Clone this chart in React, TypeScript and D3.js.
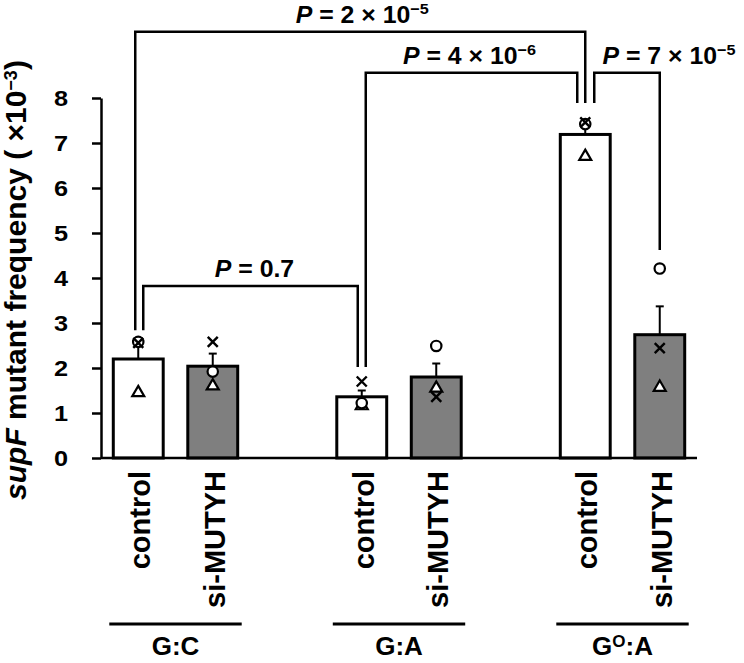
import React, { useEffect, useRef } from 'react';
import * as d3 from 'd3';

const groups = ['G:C', 'G:A', 'GO:A'];
const conditions = ['control', 'si-MUTYH'];

// mean mutant frequency (x10^-3) and SEM
const meanControl = [2.2, 1.36, 7.19];
const meanSi = [2.04, 1.8, 2.74];
const semControl = [0.37, 0.14, 0.25];
const semSi = [0.28, 0.3, 0.63];

// individual experiments
const circleControl = [2.58, 1.22, 7.42];
const circleSi = [1.92, 2.49, 4.21];
const crossControl = [2.56, 1.7, 7.46];
const crossSi = [2.58, 1.36, 2.44];
const triangleControl = [1.45, 1.16, 6.7];
const triangleSi = [1.6, 1.55, 1.57];

const yTicks = [0, 1, 2, 3, 4, 5, 6, 7, 8];

const pMantissa = ['0.7', '2', '4', '7'];
const pExponent = ['', '\u22125', '\u22126', '\u22125'];

const FONT = '"Liberation Sans", Arial, sans-serif';

const App = () => {
  const container = useRef(null);

  const width = 744;
  const height = 663;

  useEffect(() => {
    createChart();
  }, []);

  const createChart = () => {
    const svg = d3
      .select(container.current)
      .selectAll('svg')
      .data([0])
      .join('svg')
      .attr('width', width)
      .attr('height', height)
      .style('display', 'block')
      .style('background', '#fff')
      .style('font-family', FONT)
      .style('font-weight', 'bold');

    svg.selectAll('*').remove();

    const slots = [];
    groups.forEach((g, i) => {
      conditions.forEach(c => slots.push(`${g}|${c}`));
      if (i < groups.length - 1) slots.push(`gap${i}`);
    });

    const rows = groups.flatMap((g, i) =>
      conditions.map((c, j) => ({
        key: `${g}|${c}`,
        group: g,
        cond: c,
        mean: j ? meanSi[i] : meanControl[i],
        sem: j ? semSi[i] : semControl[i],
        circle: j ? circleSi[i] : circleControl[i],
        cross: j ? crossSi[i] : crossControl[i],
        triangle: j ? triangleSi[i] : triangleControl[i]
      }))
    );

    const xScale = d3
      .scaleBand()
      .domain(slots)
      .range([101, 697])
      .paddingInner(0.33)
      .paddingOuter(0.165);

    const yScale = d3.scaleLinear().domain([0, 8]).range([458, 98]);

    const bw = xScale.bandwidth();
    const cx = k => xScale(k) + bw / 2;

    // bars
    svg
      .selectAll('.bar')
      .data(rows)
      .join('rect')
      .attr('class', 'bar')
      .attr('x', d => xScale(d.key))
      .attr('y', d => yScale(d.mean))
      .attr('width', bw)
      .attr('height', d => yScale(0) - yScale(d.mean))
      .attr('fill', d => (d.cond === 'control' ? '#ffffff' : '#7f7f7f'))
      .attr('stroke', '#000')
      .attr('stroke-width', 3);

    // error bars (upper only)
    const err = svg
      .selectAll('.err')
      .data(rows)
      .join('g')
      .attr('class', 'err')
      .attr('stroke', '#000')
      .attr('stroke-width', 2);
    err
      .append('line')
      .attr('x1', d => cx(d.key))
      .attr('x2', d => cx(d.key))
      .attr('y1', d => yScale(d.mean))
      .attr('y2', d => yScale(d.mean + d.sem));
    err
      .append('line')
      .attr('x1', d => cx(d.key) - 4)
      .attr('x2', d => cx(d.key) + 4)
      .attr('y1', d => yScale(d.mean + d.sem))
      .attr('y2', d => yScale(d.mean + d.sem));

    // individual points
    svg
      .selectAll('.pt-tri')
      .data(rows)
      .join('path')
      .attr('class', 'pt-tri')
      .attr('d', d3.symbol(d3.symbolTriangle, 62))
      .attr('transform', d => `translate(${cx(d.key)},${yScale(d.triangle)})`)
      .attr('fill', '#fff')
      .attr('stroke', '#000')
      .attr('stroke-width', 2.2);

    svg
      .selectAll('.pt-circle')
      .data(rows)
      .join('circle')
      .attr('class', 'pt-circle')
      .attr('cx', d => cx(d.key))
      .attr('cy', d => yScale(d.circle))
      .attr('r', 5.2)
      .attr('fill', '#fff')
      .attr('stroke', '#000')
      .attr('stroke-width', 2.2);

    svg
      .selectAll('.pt-cross')
      .data(rows)
      .join('path')
      .attr('class', 'pt-cross')
      .attr('d', 'M-5,-5L5,5M-5,5L5,-5')
      .attr('transform', d => `translate(${cx(d.key)},${yScale(d.cross)})`)
      .attr('fill', 'none')
      .attr('stroke', '#000')
      .attr('stroke-width', 2.4);

    // y axis
    const yAxis = d3
      .axisLeft(yScale)
      .tickValues(yTicks)
      .tickSize(9)
      .tickSizeOuter(0)
      .tickFormat(d3.format('d'));

    const yAxisG = svg
      .append('g')
      .attr('transform', 'translate(101,0)')
      .call(yAxis);
    yAxisG.select('.domain').attr('stroke', '#000').attr('stroke-width', 2.5);
    yAxisG.selectAll('.tick line').attr('stroke', '#000').attr('stroke-width', 2.5);
    yAxisG
      .selectAll('.tick text')
      .attr('x', null)
      .attr('dy', '0.36em')
      .attr('transform', 'translate(-33,0) scale(1.15,1)')
      .attr('fill', '#000')
      .style('font-family', FONT)
      .style('font-weight', 'bold')
      .style('font-size', '22px');

    // baseline
    svg
      .append('line')
      .attr('x1', 101)
      .attr('x2', 697)
      .attr('y1', yScale(0))
      .attr('y2', yScale(0))
      .attr('stroke', '#000')
      .attr('stroke-width', 2.5);

    // y title
    const yTitle = svg
      .append('text')
      .attr('transform', 'translate(26,280) rotate(-90)')
      .attr('text-anchor', 'middle')
      .style('font-size', '30px');
    yTitle.append('tspan').style('font-style', 'italic').text('supF');
    yTitle.append('tspan').text(' mutant frequency ( \u00d710');
    yTitle.append('tspan').attr('dy', -9).style('font-size', '18px').text('\u22123');
    yTitle.append('tspan').attr('dy', 9).text(')');

    // category labels
    svg
      .selectAll('.xlab')
      .data(rows)
      .join('text')
      .attr('class', 'xlab')
      .attr('transform', d => `translate(${cx(d.key) + 12},471) rotate(-90)`)
      .attr('text-anchor', 'end')
      .style('font-size', '29px')
      .text(d => d.cond);

    // group underlines and names
    groups.forEach(g => {
      const x0 = xScale(`${g}|control`) - 4;
      const x1 = xScale(`${g}|si-MUTYH`) + bw + 4;
      svg
        .append('line')
        .attr('x1', x0)
        .attr('x2', x1)
        .attr('y1', 624)
        .attr('y2', 624)
        .attr('stroke', '#000')
        .attr('stroke-width', 3);
      const t = svg
        .append('text')
        .attr('x', (x0 + x1) / 2)
        .attr('y', 655)
        .attr('text-anchor', 'middle')
        .style('font-size', '26px');
      if (g === 'GO:A') {
        t.append('tspan').text('G');
        t.append('tspan').attr('dy', -8).style('font-size', '17px').text('O');
        t.append('tspan').attr('dy', 8).text(':A');
      } else {
        t.text(g);
      }
    });

    // significance brackets
    const brackets = [
      { p: 0, a: 'G:C|control', da: 5, b: 'G:A|control', db: -4, top: 3.82, endA: 2.84, endB: 2.02, lx: 4 },
      { p: 1, a: 'G:C|control', da: -3, b: 'GO:A|control', db: 0, top: 9.47, endA: 2.84, endB: 7.89, lx: 2 },
      { p: 2, a: 'G:A|control', da: 4, b: 'GO:A|control', db: -8, top: 8.56, endA: 2.02, endB: 7.89, lx: -2 },
      { p: 3, a: 'GO:A|control', da: 9, b: 'GO:A|si-MUTYH', db: 0, top: 8.56, endA: 7.89, endB: 4.62, lx: 42 }
    ];

    brackets.forEach(br => {
      const xa = cx(br.a) + br.da;
      const xb = cx(br.b) + br.db;
      const yt = yScale(br.top);
      svg
        .append('path')
        .attr('d', `M${xa},${yScale(br.endA)}V${yt}H${xb}V${yScale(br.endB)}`)
        .attr('fill', 'none')
        .attr('stroke', '#000')
        .attr('stroke-width', 2.5);

      const lab = svg
        .append('text')
        .attr('transform', `translate(${(xa + xb) / 2 + br.lx},${yt - 9}) scale(1.08,1)`)
        .attr('text-anchor', 'middle')
        .style('font-size', '23px');
      lab.append('tspan').style('font-style', 'italic').text('P');
      if (pExponent[br.p]) {
        lab.append('tspan').text(` = ${pMantissa[br.p]} \u00d7 10`);
        lab.append('tspan').attr('dy', -9).style('font-size', '15px').text(pExponent[br.p]);
      } else {
        lab.append('tspan').text(` = ${pMantissa[br.p]}`);
      }
    });
  };

  return <div ref={container} style={{ position: 'absolute', left: 0, top: 0 }}></div>;
};

export default App;
